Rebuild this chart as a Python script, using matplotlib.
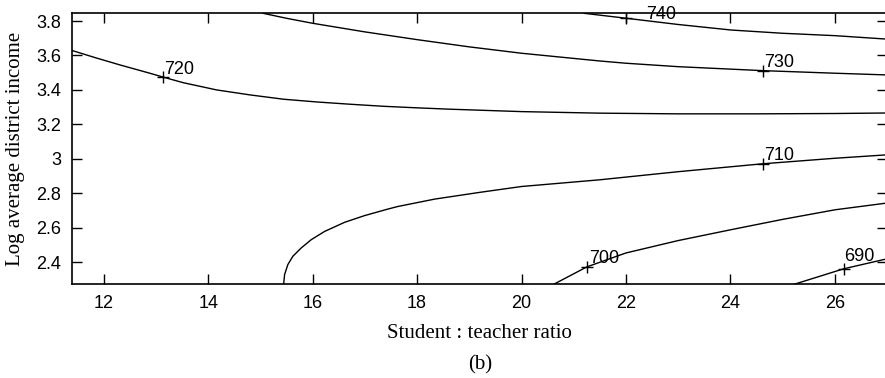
import numpy as np
import matplotlib.pyplot as plt

# contour lines: (student:teacher ratio, log income)
c740_x = [21.2, 22.01, 23.0, 24.01, 25.0, 26.01, 27.0]
c740_y = [3.845, 3.816, 3.78, 3.748, 3.729, 3.715, 3.695]

c730_x = [15.05, 15.5, 16.0, 17.0, 18.0, 19.0, 20.0, 21.5, 22.0, 23.0, 24.62, 26.0, 27.0]
c730_y = [3.845, 3.816, 3.787, 3.737, 3.692, 3.65, 3.613, 3.568, 3.555, 3.535, 3.512, 3.497, 3.487]

c720_x = [11.39, 11.85, 12.31, 12.88, 13.14, 13.52, 14.16, 14.80, 15.44, 16.08, 16.71,
          17.35, 17.99, 18.63, 20.0, 21.5, 23.0, 24.5, 26.0, 27.0]
c720_y = [3.629, 3.586, 3.545, 3.497, 3.474, 3.442, 3.400, 3.371, 3.346, 3.330, 3.317,
          3.305, 3.296, 3.288, 3.274, 3.265, 3.261, 3.261, 3.263, 3.266]

c710_x = [15.443, 15.462, 15.525, 15.621, 15.780, 15.971, 16.228, 16.611, 16.994, 17.441,
          17.632, 18.34, 19.2, 20.0, 21.5, 23.0, 24.62, 26.0, 27.0]
c710_y = [2.27, 2.328, 2.386, 2.434, 2.482, 2.530, 2.578, 2.631, 2.670, 2.708,
          2.723, 2.766, 2.805, 2.839, 2.878, 2.925, 2.971, 3.003, 3.023]

c700_x = [20.61, 21.25, 22.0, 23.0, 24.01, 25.0, 26.01, 27.0]
c700_y = [2.27, 2.372, 2.453, 2.525, 2.588, 2.648, 2.704, 2.743]

c690_x = [25.21, 26.17, 27.0]
c690_y = [2.27, 2.361, 2.419]

levels = ['740', '730', '720', '710', '700', '690']
label_x = [22.01, 24.62, 13.14, 24.62, 21.25, 26.17]
label_y = [3.816, 3.512, 3.474, 2.971, 2.372, 2.361]

xticks = [12, 14, 16, 18, 20, 22, 24, 26]
yticks = [2.4, 2.6, 2.8, 3.0, 3.2, 3.4, 3.6, 3.8]
ytick_labels = ['2.4', '2.6', '2.8', '3', '3.2', '3.4', '3.6', '3.8']

plt.rcParams['font.family'] = ['Liberation Sans', 'DejaVu Sans']

fig = plt.figure(figsize=(8.85, 3.78), dpi=100)
# right spine sits just outside the picture, as in the original
ax = fig.add_axes([72/885, 93.7/378, 815/885, 271/378])

curves = [(c740_x, c740_y), (c730_x, c730_y), (c720_x, c720_y),
          (c710_x, c710_y), (c700_x, c700_y), (c690_x, c690_y)]
for cx, cy in curves:
    ax.plot(cx, cy, color='black', linewidth=1.0)

# label offsets in pixels (text left / baseline relative to marker)
offsets = [(20, -1), (1, 4), (1, 3), (1, 4), (2, 4), (0, 8)]
for lab, lx, ly, off in zip(levels, label_x, label_y, offsets):
    ax.plot(lx, ly, marker='+', color='black', markersize=8, mew=1.0)
    ax.annotate(lab, (lx, ly), xytext=off, textcoords='offset pixels',
                ha='left', va='baseline', fontsize=13, annotation_clip=False)

ax.set_xlim(11.39, 27.0)
ax.set_ylim(2.271, 3.845)
ax.set_xticks(xticks)
ax.set_yticks(yticks)
ax.set_yticklabels(ytick_labels)
ax.tick_params(direction='in', length=7, width=1.0, labelsize=13,
               top=True, right=True, pad=8)
for s in ax.spines.values():
    s.set_linewidth(1.2)

ax.set_xlabel('Student : teacher ratio', family='Liberation Serif', fontsize=15, labelpad=8)
ax.set_ylabel('Log average district income', family='Liberation Serif', fontsize=15, labelpad=8)
fig.text(0.543, 1 - 365/378, '(b)', family='Liberation Serif', fontsize=15,
         ha='center', va='center')

plt.savefig('out.png', dpi=100)
